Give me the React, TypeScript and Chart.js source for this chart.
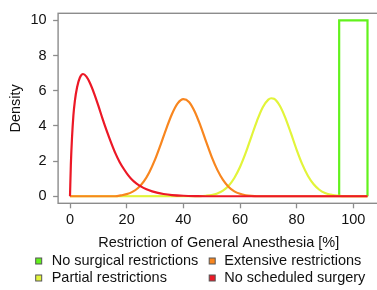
import React, { useEffect, useRef } from "react";
import { Chart, registerables } from "chart.js";

Chart.register(...registerables);

// Legend entries (column-major, as in the reference) and colours
const legendLabels = [
  "No surgical restrictions",
  "Partial restrictions",
  "Extensive restrictions",
  "No scheduled surgery",
];
const seriesColors = ["#62f21c", "#e2f43a", "#f8861f", "#ec1826"];

const xTicks = [0, 20, 40, 60, 80, 100];
const yTicks = [0, 2, 4, 6, 8, 10];

// No surgical restrictions (uniform block)
const greenX = [95, 95, 105, 105];
const greenY = [0, 10, 10, 0];

// Partial restrictions
const yellowX = [0, 46, 48, 50, 52, 54, 56, 58, 60, 62, 64, 66, 68, 70, 71, 72, 74, 76, 78, 80, 82, 84, 86, 88, 90, 92, 94, 96, 105];
const yellowY = [0, 0.01, 0.03, 0.07, 0.16, 0.32, 0.6, 1.04, 1.66, 2.46, 3.38, 4.29, 5.05, 5.49, 5.57, 5.54, 5.16, 4.46, 3.57, 2.64, 1.81, 1.15, 0.68, 0.37, 0.18, 0.09, 0.04, 0.01, 0];

// Extensive restrictions
const orangeX = [0, 16, 18, 20, 22, 24, 26, 28, 30, 32, 34, 36, 38, 40, 42, 44, 46, 48, 50, 52, 54, 56, 58, 60, 62, 64, 66, 105];
const orangeY = [0, 0, 0.05, 0.12, 0.25, 0.47, 0.83, 1.37, 2.08, 2.94, 3.85, 4.68, 5.28, 5.52, 5.36, 4.82, 4.03, 3.12, 2.24, 1.5, 0.93, 0.53, 0.28, 0.14, 0.06, 0.02, 0, 0];

// No scheduled surgery
const redX = [0, 0.3, 0.7, 1.2, 1.7, 2.5, 3.5, 4.6, 5.8, 7, 8.5, 10, 11.5, 13, 14.5, 16, 17.5, 19, 20.5, 22, 23.5, 25, 27, 29, 31, 33, 36, 40, 45, 50, 105];
const redY = [0, 1.8, 3.3, 4.6, 5.4, 6.2, 6.75, 6.95, 6.8, 6.45, 5.85, 5.15, 4.4, 3.7, 3.05, 2.45, 1.95, 1.55, 1.2, 0.92, 0.72, 0.56, 0.4, 0.28, 0.19, 0.13, 0.07, 0.03, 0.01, 0, 0];

const seriesX = [greenX, yellowX, orangeX, redX];
const seriesY = [greenY, yellowY, orangeY, redY];

const FONT = "'Liberation Sans', Arial, Helvetica, sans-serif";
const TEXT = "#111111";
const AXIS = "#8c8c8c";

const boxAndLegend = {
  id: "boxAndLegend",
  afterDatasetsDraw(chart: any) {
    const { ctx, chartArea: a } = chart;
    ctx.save();
    ctx.strokeStyle = AXIS;
    ctx.lineWidth = 1.4;
    ctx.strokeRect(a.left, a.top, a.right - a.left, a.bottom - a.top);
    ctx.restore();
  },
  afterDraw(chart: any) {
    const { ctx } = chart;
    const squareX = [38.7, 212.2];
    const textX = [51.7, 224.3];
    const rowY = [261, 278];
    ctx.save();
    ctx.font = `14.5px ${FONT}`;
    ctx.textBaseline = "middle";
    ctx.textAlign = "left";
    legendLabels.forEach((label, i) => {
      const col = Math.floor(i / 2);
      const row = i % 2;
      const cx = squareX[col];
      const cy = rowY[row];
      ctx.fillStyle = seriesColors[i];
      ctx.fillRect(cx - 3, cy - 3, 6, 6);
      ctx.strokeStyle = "#555";
      ctx.lineWidth = 1;
      ctx.strokeRect(cx - 3, cy - 3, 6, 6);
      ctx.fillStyle = TEXT;
      ctx.fillText(label, textX[col], cy);
    });
    ctx.restore();
  },
};

export default function App() {
  const ref = useRef<HTMLCanvasElement | null>(null);

  useEffect(() => {
    if (!ref.current) return;
    const datasets = legendLabels.map((label, i) => ({
      label,
      data: seriesX[i].map((x, j) => ({ x, y: seriesY[i][j] })),
      borderColor: seriesColors[i],
      backgroundColor: seriesColors[i],
      borderWidth: 2.2,
      pointRadius: 0,
      fill: false,
      order: legendLabels.length - i,
      tension: 0,
      cubicInterpolationMode: i === 0 ? "default" : "monotone",
    }));

    const chart = new Chart(ref.current, {
      type: "line",
      data: { datasets } as any,
      options: {
        responsive: false,
        animation: false,
        devicePixelRatio: 1,
        layout: { padding: { top: 13.3, left: 0, right: 0.6, bottom: 38.6 } },
        plugins: { legend: { display: false }, tooltip: { enabled: false } },
        scales: {
          x: {
            type: "linear",
            min: -4.2,
            max: 109.2,
            afterBuildTicks: (s: any) => {
              s.ticks = xTicks.map((value) => ({ value }));
            },
            afterFit: (s: any) => {
              s.height = 48.1;
              s.paddingLeft = 0;
              s.paddingRight = 0;
            },
            grid: {
              drawOnChartArea: false,
              drawTicks: true,
              tickLength: 5,
              tickColor: AXIS,
              tickWidth: 1.3,
            },
            border: { display: false },
            ticks: {
              padding: 3,
              color: TEXT,
              font: { family: FONT, size: 14.5 },
              maxRotation: 0,
              autoSkip: false,
              callback: (v: any) => String(v),
            },
            title: {
              display: true,
              text: "Restriction of General Anesthesia [%]",
              color: TEXT,
              font: { family: FONT, size: 14.5 },
              padding: { top: 0, bottom: 0 },
            },
          },
          y: {
            type: "linear",
            min: -0.4,
            max: 10.4,
            afterBuildTicks: (s: any) => {
              s.ticks = yTicks.map((value) => ({ value }));
            },
            afterFit: (s: any) => {
              s.width = 58.1;
              s.paddingTop = 0;
              s.paddingBottom = 0;
            },
            grid: {
              drawOnChartArea: false,
              drawTicks: true,
              tickLength: 5,
              tickColor: AXIS,
              tickWidth: 1.3,
            },
            border: { display: false },
            ticks: {
              padding: 6.5,
              color: TEXT,
              font: { family: FONT, size: 14.5 },
              autoSkip: false,
              callback: (v: any) => String(v),
            },
            title: {
              display: true,
              text: "Density",
              color: TEXT,
              font: { family: FONT, size: 14.5 },
              padding: { top: 7, bottom: 0 },
            },
          },
        },
      } as any,
      plugins: [boxAndLegend],
    });
    return () => chart.destroy();
  }, []);

  return (
    <div
      style={{
        position: "fixed",
        left: 0,
        top: 0,
        width: 377,
        height: 290,
        overflow: "hidden",
        background: "#ffffff",
      }}
    >
      <canvas ref={ref} width={380} height={290} style={{ display: "block" }} />
    </div>
  );
}
